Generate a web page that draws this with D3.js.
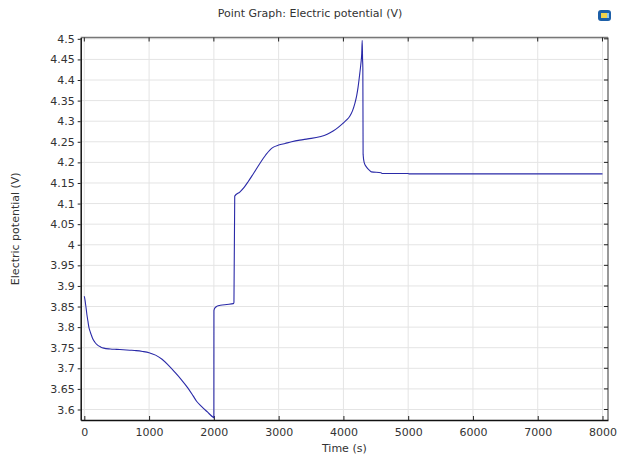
<!DOCTYPE html>
<html><head><meta charset="utf-8">
<script src="https://cdn.jsdelivr.net/npm/d3@7/dist/d3.min.js"></script>
<style>body{margin:0;background:#fff;} svg{display:block;font-family:"DejaVu Sans",sans-serif;}</style>
</head><body>
<svg id="c" width="619" height="461"></svg>
<script>
const title = "Point Graph: Electric potential (V)";
const xLabel = "Time (s)";
const yLabel = "Electric potential (V)";
const xTicks = [0,1000,2000,3000,4000,5000,6000,7000,8000];
const yTicks = [3.6,3.65,3.7,3.75,3.8,3.85,3.9,3.95,4,4.05,4.1,4.15,4.2,4.25,4.3,4.35,4.4,4.45,4.5];
const yTickLabels = ["3.6","3.65","3.7","3.75","3.8","3.85","3.9","3.95","4","4.05","4.1","4.15","4.2","4.25","4.3","4.35","4.4","4.45","4.5"];
const time = [0,10,20,30,40,55,70,90,110,130,160,200,250,300,400,500,600,700,800,900,1000,1100,1200,1300,1400,1500,1600,1680,1733,1800,1900,1990,2000,
  2001,2010,2050,2100,2200,2300,2310,2322,2400,2470,2529,2600,2700,2800,2864,2920,3000,3100,3200,3327,3450,3634,3750,3841,3920,3994,4050,4098,4140,4175,4205,4226,4252,4270,4283,4290,4296,4300,4304,4320,4355,4400,4432,4580,4600,5000,5010,8000];
const potential = [3.875,3.866,3.855,3.843,3.83,3.815,3.80,3.789,3.78,3.772,3.764,3.757,3.752,3.749,3.747,3.746,3.745,3.744,3.743,3.741,3.738,3.732,3.722,3.707,3.690,3.672,3.652,3.633,3.620,3.609,3.594,3.581,3.58,
  3.84,3.845,3.851,3.853,3.855,3.857,3.86,4.118,4.128,4.14,4.153,4.17,4.195,4.218,4.23,4.237,4.242,4.246,4.25,4.254,4.257,4.262,4.268,4.276,4.285,4.295,4.303,4.312,4.325,4.342,4.362,4.382,4.415,4.44,4.465,4.496,4.45,4.43,4.22,4.20,4.189,4.181,4.177,4.175,4.173,4.173,4.172,4.172];

const svg = d3.select("#c");
const L=80.7, R=608, T=37.5, B=420;
const x = d3.scaleLinear().domain([-56,8085]).range([L,R]);
const y = d3.scaleLinear().domain([3.5745,4.5032]).range([B,T]);

// grid
svg.append("g").selectAll("line").data(xTicks).join("line")
  .attr("x1",d=>x(d)).attr("x2",d=>x(d)).attr("y1",T).attr("y2",B)
  .attr("stroke","#e4e4e4").attr("stroke-width",1);
svg.append("g").selectAll("line").data(yTicks).join("line")
  .attr("x1",L).attr("x2",R).attr("y1",d=>y(d)).attr("y2",d=>y(d))
  .attr("stroke","#e4e4e4").attr("stroke-width",1);

// frame top/right
svg.append("line").attr("x1",L).attr("x2",R).attr("y1",T).attr("y2",T).attr("stroke","#777").attr("stroke-width",1.5);
svg.append("line").attr("x1",R).attr("x2",R).attr("y1",T).attr("y2",B).attr("stroke","#777").attr("stroke-width",1.5);
svg.append("g").selectAll("line").data(xTicks).join("line")
  .attr("x1",d=>x(d)).attr("x2",d=>x(d)).attr("y1",T).attr("y2",T+4).attr("stroke","#222");
svg.append("g").selectAll("line").data(yTicks).join("line")
  .attr("x1",R-4).attr("x2",R).attr("y1",d=>y(d)).attr("y2",d=>y(d)).attr("stroke","#222");

// axes
const xa = svg.append("g").attr("transform",`translate(0,${B})`)
  .call(d3.axisBottom(x).tickValues(xTicks).tickSizeInner(-4).tickSizeOuter(0).tickPadding(8).tickFormat(d3.format("d")));
const ya = svg.append("g").attr("transform",`translate(${L},0)`)
  .call(d3.axisLeft(y).tickValues(yTicks).tickSizeInner(3).tickSizeOuter(0).tickPadding(3).tickFormat((d,i)=>yTickLabels[i]));
[xa,ya].forEach(a=>{
  a.select(".domain").attr("stroke","#111").attr("stroke-width",1.5);
  a.selectAll(".tick line").attr("stroke","#222");
  a.selectAll("text").attr("fill","#333").style("font-size","11px").style("font-family","DejaVu Sans");
});
xa.selectAll("text").attr("dy","0.71em");

// line
const pts = time.map((t,i)=>[t,potential[i]]);
svg.append("path").datum(pts)
  .attr("fill","none").attr("stroke","#2a2aa8").attr("stroke-width",1.1)
  .attr("d",d3.line().curve(d3.curveMonotoneX).x(d=>x(d[0])).y(d=>y(d[1])));

// texts
svg.append("text").attr("x",310).attr("y",17).attr("text-anchor","middle")
  .attr("fill","#333").style("font-size","11px").text(title);
svg.append("text").attr("x",(L+R)/2).attr("y",452).attr("text-anchor","middle")
  .attr("fill","#333").style("font-size","11px").text(xLabel);
svg.append("text").attr("transform",`translate(19,${(T+B)/2}) rotate(-90)`).attr("text-anchor","middle")
  .attr("fill","#333").style("font-size","11px").text(yLabel);

// icon
const ic = svg.append("g").attr("transform","translate(598,10)");
ic.append("rect").attr("width",13).attr("height",11).attr("rx",3).attr("fill","#1d5fa8");
ic.append("rect").attr("x",3).attr("y",3).attr("width",6).attr("height",5).attr("fill","#f2d14a");
ic.append("rect").attr("x",9).attr("y",3).attr("width",2).attr("height",5).attr("fill","#8fc6ee");
</script>
</body></html>
